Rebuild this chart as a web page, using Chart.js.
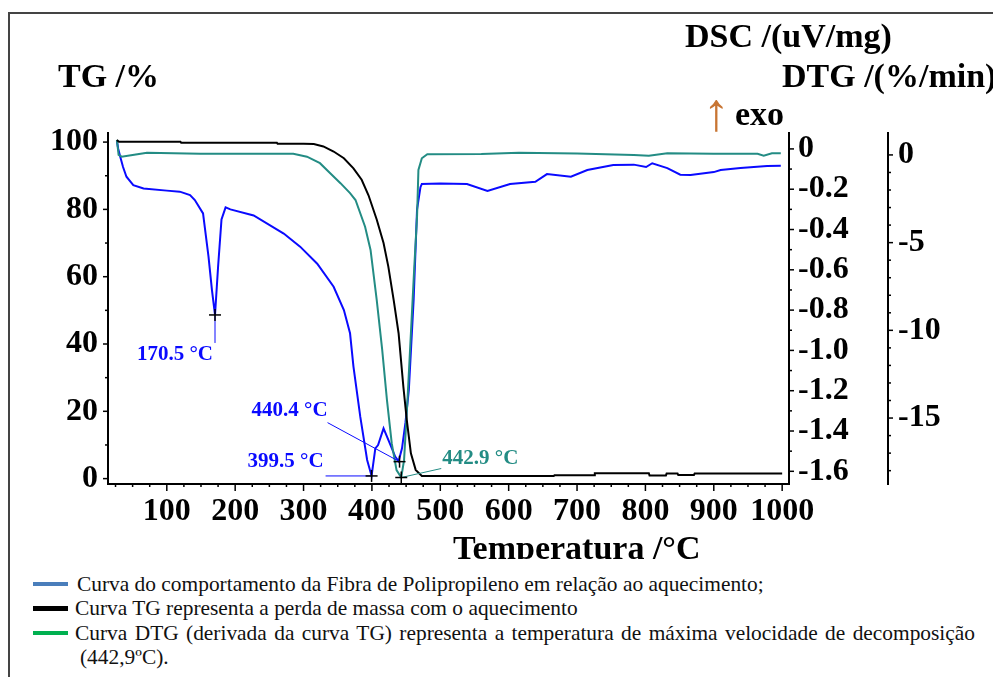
<!DOCTYPE html>
<html>
<head>
<meta charset="utf-8">
<script src="https://cdn.jsdelivr.net/npm/chart.js@4.4.1/dist/chart.umd.min.js"></script>
<style>
  html, body { margin: 0; padding: 0; background: #fff; }
  body { width: 993px; height: 677px; position: relative; overflow: hidden; }
  #frame { position: absolute; left: 8px; top: 12px; width: 1000px; height: 700px; border-left: 2px solid #444; border-top: 2px solid #444; }
  #chart { position: absolute; left: 0; top: 0; }
  .row { position: absolute; font-family: 'Liberation Serif', 'Times New Roman', serif; font-size: 21.4px; color: #111; white-space: nowrap; line-height: 24px; }
  .sw { position: absolute; left: 33px; width: 35px; }
</style>
</head>
<body>
<div id="frame"></div>
<canvas id="chart" width="993" height="559"></canvas>

<div class="sw" style="top:582px;height:4px;background:#4a7ebb"></div>
<div class="row" style="left:77px;top:572px">Curva do comportamento da Fibra de Polipropileno em relação ao aquecimento;</div>
<div class="sw" style="top:606px;height:5px;background:#000"></div>
<div class="row" style="left:75px;top:596px">Curva TG representa a perda de massa com o aquecimento</div>
<div class="sw" style="top:631px;height:4px;background:#00b050"></div>
<div class="row" style="left:75px;top:621px;width:900px;white-space:normal;text-align:justify;text-align-last:justify">Curva DTG (derivada da curva TG) representa a temperatura de máxima velocidade de decomposição</div>
<div class="row" style="left:80px;top:645px">(442,9ºC).</div>

<script>
// DSC curve (blue), uV/mg
const dscTemp = [27, 29, 32, 36, 41, 51, 66, 100, 119, 134, 141, 153, 161, 166, 170.5, 175, 180, 186, 193, 227, 271, 295, 320, 344, 359, 368, 373, 383, 393, 399.5, 405, 409, 417, 426, 434, 439, 444, 449, 454, 461, 466, 471, 473, 500, 539, 569, 602, 639, 656, 691, 715, 753, 783, 801, 810, 832, 851, 866, 900, 910, 939, 978, 998];
const dscValue = [0.04, 0.0, -0.04, -0.09, -0.138, -0.18, -0.196, -0.207, -0.212, -0.229, -0.254, -0.32, -0.535, -0.70, -0.824, -0.585, -0.35, -0.29, -0.30, -0.33, -0.42, -0.485, -0.57, -0.684, -0.80, -0.915, -1.08, -1.33, -1.544, -1.623, -1.486, -1.47, -1.387, -1.46, -1.527, -1.55, -1.486, -1.36, -1.196, -0.75, -0.30, -0.19, -0.174, -0.172, -0.174, -0.209, -0.174, -0.163, -0.125, -0.138, -0.105, -0.080, -0.078, -0.090, -0.071, -0.095, -0.128, -0.130, -0.115, -0.105, -0.095, -0.085, -0.083];

// TG curve (black), %
const tgTemp = [27, 30, 120, 121, 261, 262, 300, 315, 329, 344, 359, 373, 385, 395, 407, 417, 424, 432, 439, 446, 451, 457, 464, 473, 666, 667, 725, 726, 805, 806, 830, 831, 847, 848, 871, 872, 1000];
const tgValue = [100.6, 100.1, 100.1, 99.8, 99.8, 99.5, 99.5, 99.4, 98.7, 97.2, 95.2, 92.2, 88.8, 84.2, 77, 70, 63, 52.8, 43.2, 27.3, 17.4, 7.5, 2.6, 0.8, 0.8, 1.0, 1.0, 1.6, 1.6, 0.95, 0.95, 1.5, 1.5, 1.1, 1.1, 1.5, 1.5];

// DTG curve (teal), %/min
const dtgTemp = [27, 29.5, 34, 50, 71, 149, 246, 285, 305, 324, 339, 354, 368, 376, 390, 398, 407, 415, 422, 429, 436, 442.9, 447, 452, 457, 462, 466, 468, 473, 481, 560, 615, 700, 783, 805, 832, 900, 964, 973, 985, 998];
const dtgValue = [0.86, 0.0, -0.1, 0.0, 0.13, 0.06, 0.06, 0.06, -0.1, -0.47, -1.04, -1.61, -2.18, -2.57, -4.09, -5.42, -8.27, -11.1, -13.98, -16.45, -17.97, -18.39, -17.4, -13.98, -10.17, -6.37, -3.52, -0.86, -0.19, 0.04, 0.05, 0.13, 0.08, 0.0, -0.04, 0.1, 0.07, 0.06, -0.04, 0.1, 0.1];

// peak annotations
const peakLabels = ['170.5 °C', '399.5 °C', '440.4 °C', '442.9 °C'];
const peakTemps = [170.5, 399.5, 440.4, 442.9];
const peakValues = [-0.824, -1.623, -1.552, -18.39];
const peakAxes = ['yDSC', 'yDSC', 'yDSC', 'yDTG'];

// ticks
const xTicks = [100, 200, 300, 400, 500, 600, 700, 800, 900, 1000];
const tgTicks = [0, 20, 40, 60, 80, 100];
const dscTicks = [0, -0.2, -0.4, -0.6, -0.8, -1.0, -1.2, -1.4, -1.6];
const dtgTicks = [0, -5, -10, -15];
const xMinor = [];
for (let v = 25; v <= 1000; v += 25) if (v % 100) xMinor.push(v);
const tgMinor = [10, 30, 50, 70, 90];
const dscMinor = [-0.1, -0.3, -0.5, -0.7, -0.9, -1.1, -1.3, -1.5];
const dtgMinor = [-1, -2, -3, -4, -6, -7, -8, -9, -11, -12, -13, -14, -16, -17, -18];

const serif = "'Liberation Serif', 'Times New Roman', serif";
const tickFont = { family: serif, size: 32, weight: 'bold' };
const blue = '#0a0aff';
const teal = '#238c84';

const pts = (xs, ys) => xs.map((t, i) => ({ x: t, y: ys[i] }));

// label/leader offsets from each marker
const peakLayout = [
  { lx: 0, ly: 28, tx: -2, ty: 40, align: 'right', color: blue },
  { lx: -46, ly: 0, tx: -48, ty: -14, align: 'right', color: blue },
  { lx: -72, ly: -39, tx: -72, ty: -51, align: 'right', color: blue },
  { lx: 40, ly: -9, tx: 41, ty: -19, align: 'left', color: teal }
];

const decor = {
  id: 'decor',
  afterDraw(chart) {
    const ctx = chart.ctx;
    const { x, yTG, yDSC, yDTG } = chart.scales;
    ctx.save();
    ctx.strokeStyle = '#000';
    ctx.lineWidth = 1.5;
    const line = (x1, y1, x2, y2) => { ctx.beginPath(); ctx.moveTo(x1, y1); ctx.lineTo(x2, y2); ctx.stroke(); };

    // axis ticks (outward)
    xTicks.forEach(v => { const p = x.getPixelForValue(v); line(p, x.top, p, x.top + 7); });
    xMinor.forEach(v => { const p = x.getPixelForValue(v); line(p, x.top, p, x.top + 3); });
    tgTicks.forEach(v => { const p = yTG.getPixelForValue(v); line(yTG.right - 5, p, yTG.right, p); });
    tgMinor.forEach(v => { const p = yTG.getPixelForValue(v); line(yTG.right - 3, p, yTG.right, p); });
    dscTicks.forEach(v => { const p = yDSC.getPixelForValue(v); line(yDSC.left, p, yDSC.left + 5, p); });
    dscMinor.forEach(v => { const p = yDSC.getPixelForValue(v); line(yDSC.left, p, yDSC.left + 3, p); });
    dtgTicks.forEach(v => { const p = yDTG.getPixelForValue(v); line(yDTG.left, p, yDTG.left + 5, p); });
    dtgMinor.forEach(v => { const p = yDTG.getPixelForValue(v); line(yDTG.left, p, yDTG.left + 3, p); });

    // peak markers, leader lines and labels
    ctx.font = 'bold 21px ' + serif;
    ctx.textBaseline = 'middle';
    peakTemps.forEach((t, i) => {
      const mx = x.getPixelForValue(t);
      const my = chart.scales[peakAxes[i]].getPixelForValue(peakValues[i]);
      const L = peakLayout[i];
      ctx.strokeStyle = L.color;
      ctx.lineWidth = 1;
      line(mx, my, mx + L.lx, my + L.ly);
      ctx.strokeStyle = '#000';
      ctx.lineWidth = 1.5;
      line(mx - 6, my, mx + 6, my);
      line(mx, my - 6, mx, my + 6);
      ctx.fillStyle = L.color;
      ctx.textAlign = L.align;
      ctx.fillText(peakLabels[i], mx + L.tx, my + L.ty);
    });

    // axis titles
    ctx.fillStyle = '#000';
    ctx.textAlign = 'left';
    ctx.textBaseline = 'alphabetic';
    ctx.font = 'bold 34px ' + serif;
    ctx.fillText('TG /%', 58, 87);
    ctx.fillText('DSC /(uV/mg)', 685, 47);
    ctx.fillText('DTG /(%/min)', 782, 87);
    ctx.fillText('exo', 735, 125);
    ctx.fillText('Temperatura /°C', 453, 559);
    ctx.fillStyle = '#c87533';
    ctx.font = '54px ' + serif;
    ctx.fillText('↑', 703, 130);
    ctx.restore();
  }
};

const fixTicks = vals => scale => { scale.ticks = vals.map(v => ({ value: v })); };

new Chart(document.getElementById('chart'), {
  type: 'line',
  data: {
    datasets: [
      { label: 'TG', data: pts(tgTemp, tgValue), yAxisID: 'yTG', borderColor: '#000', borderWidth: 2 },
      { label: 'DTG', data: pts(dtgTemp, dtgValue), yAxisID: 'yDTG', borderColor: teal, borderWidth: 2 },
      { label: 'DSC', data: pts(dscTemp, dscValue), yAxisID: 'yDSC', borderColor: blue, borderWidth: 2 }
    ]
  },
  options: {
    responsive: false,
    animation: false,
    events: [],
    devicePixelRatio: 1,
    elements: { point: { radius: 0 }, line: { tension: 0 } },
    layout: { padding: { top: 133, left: 0, right: 0, bottom: 0 } },
    plugins: { legend: { display: false }, tooltip: { enabled: false } },
    scales: {
      x: {
        type: 'linear', position: 'bottom', min: 14, max: 1010,
        grid: { display: false, drawTicks: false },
        border: { display: true, color: '#000', width: 2 },
        ticks: { font: tickFont, color: '#000', padding: 9, maxRotation: 0, autoSkip: false,
          callback: v => String(v) },
        afterBuildTicks: fixTicks(xTicks),
        afterFit: s => { s.height = 75; }
      },
      yTG: {
        type: 'linear', position: 'left', min: -1.6, max: 102.7,
        grid: { display: false, drawTicks: false },
        border: { display: true, color: '#000', width: 2 },
        ticks: { font: tickFont, color: '#000', padding: 10, autoSkip: false },
        afterBuildTicks: fixTicks(tgTicks),
        afterFit: s => { s.width = 108; }
      },
      yDSC: {
        type: 'linear', position: 'right', weight: 0, min: -1.663, max: 0.079,
        grid: { display: false, drawTicks: false },
        border: { display: true, color: '#000', width: 2 },
        ticks: { font: tickFont, color: '#000', padding: 9, autoSkip: false,
          callback: v => v === 0 ? '0' : v.toFixed(1) },
        afterBuildTicks: fixTicks(dscTicks),
        afterFit: s => { s.width = 99; }
      },
      yDTG: {
        type: 'linear', position: 'right', weight: 1, min: -18.76, max: 1.25,
        grid: { display: false, drawTicks: false },
        border: { display: true, color: '#000', width: 2 },
        ticks: { font: tickFont, color: '#000', padding: 10, autoSkip: false },
        afterBuildTicks: fixTicks(dtgTicks),
        afterFit: s => { s.width = 105; }
      }
    }
  },
  plugins: [decor]
});
</script>
</body>
</html>
